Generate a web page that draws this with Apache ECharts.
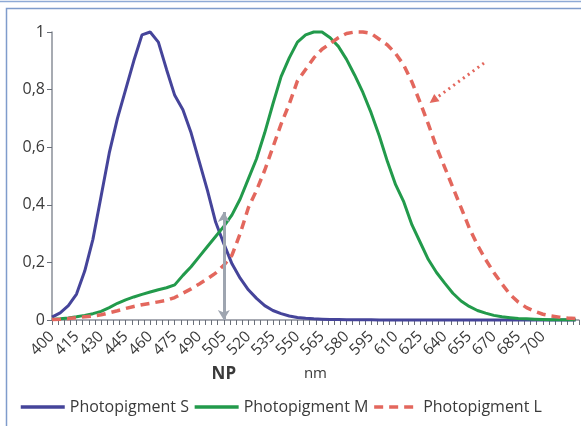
<!DOCTYPE html>
<html>
<head>
<meta charset="utf-8">
<script src="https://cdn.jsdelivr.net/npm/echarts@6/dist/echarts.min.js"></script>
<style>
html,body{margin:0;padding:0;background:#fff;}
#chart{width:581px;height:426px;}
</style>
</head>
<body>
<div id="chart"></div>
<script>
const wavelengths = [400,405,410,415,420,425,430,435,440,445,450,455,460,465,470,475,480,485,490,495,
  500,505,510,515,520,525,530,535,540,545,550,555,560,565,570,575,580,585,590,595,
  600,605,610,615,620,625,630,635,640,645,650,655,660,665,670,675,680,685,690,695,
  700,705,710,715,720];

const seriesS = [0.01,0.025,0.05,0.09,0.17,0.28,0.43,0.58,0.70,0.80,0.90,0.99,1.0,0.965,0.87,0.78,0.73,0.65,0.55,0.45,
  0.34,0.265,0.195,0.145,0.105,0.075,0.05,0.033,0.022,0.014,0.009,0.006,0.004,0.003,0.002,0.002,0.001,0.001,0.001,0.001,
  0,0,0,0,0,0,0,0,0,0,0,0,0,0,0,0,0,0,0,0,
  0,0,0,0,0];

const seriesM = [0.002,0.004,0.007,0.011,0.016,0.022,0.03,0.043,0.058,0.07,0.08,0.089,0.097,0.105,0.112,0.122,0.155,0.185,0.22,0.255,
  0.29,0.325,0.365,0.42,0.49,0.56,0.65,0.75,0.845,0.91,0.965,0.99,1.0,1.0,0.98,0.95,0.905,0.85,0.79,0.72,
  0.64,0.55,0.47,0.41,0.33,0.27,0.21,0.165,0.128,0.093,0.066,0.047,0.033,0.024,0.016,0.011,0.008,0.005,0.004,0.003,
  0.002,0.001,0.001,0.001,0.001];

const seriesL = [0.002,0.003,0.005,0.008,0.011,0.014,0.018,0.025,0.032,0.04,0.047,0.053,0.058,0.063,0.068,0.078,0.093,0.108,0.125,0.143,
  0.163,0.19,0.225,0.30,0.39,0.45,0.52,0.60,0.68,0.75,0.83,0.87,0.91,0.94,0.96,0.98,0.995,1.0,1.0,0.995,
  0.975,0.955,0.925,0.885,0.826,0.755,0.68,0.60,0.53,0.46,0.39,0.32,0.26,0.21,0.165,0.125,0.088,0.062,0.043,0.03,
  0.02,0.014,0.01,0.007,0.005];

const yTicks = [0,0.2,0.4,0.6,0.8,1];
const seriesNames = ['Photopigment S','Photopigment M','Photopigment L'];
const neutralPoint = 505;
const npArrow = [0, 0.375];
const pointerArrow = [[664, 0.892],[633, 0.763]];

function pairs(vals){ return wavelengths.map((w,i)=>[w, vals[i]]); }

const font = 'Open Sans';
const chart = echarts.init(document.getElementById('chart'), null, {renderer:'canvas'});
chart.setOption({
  animation:false,
  backgroundColor:'#ffffff',
  textStyle:{fontFamily:font},
  graphic:[
    {type:'line', shape:{x1:0,y1:1.5,x2:581,y2:1.5}, style:{stroke:'#8eaad6',lineWidth:1.5}},
    {type:'rect', shape:{x:6.5,y:8.5,width:600,height:440}, style:{fill:null,stroke:'#7f9ccc',lineWidth:1.5}}
  ],
  grid:{left:52,right:0,top:32,bottom:106},
  legend:{
    left:14, top:394, itemWidth:44, itemHeight:14, itemGap:4,
    itemStyle:{opacity:0},
    lineStyle:{width:3.5},
    textStyle:{fontSize:16,color:'#3a3a3a',fontFamily:font},
    data:seriesNames
  },
  xAxis:{
    type:'value', min:400, max:722, interval:15,
    name:'nm', nameLocation:'middle', nameGap:46,
    nameTextStyle:{fontSize:15,color:'#3a3a3a'},
    axisLine:{show:true,onZero:false,lineStyle:{color:'#8a8f99',width:1.5}},
    axisTick:{show:true,length:5,inside:false,lineStyle:{color:'#6a6f78'}},
    minorTick:{show:true,splitNumber:4,length:5,lineStyle:{color:'#6a6f78'}},
    splitLine:{show:false},
    axisLabel:{rotate:45,fontSize:15.5,color:'#3a3a3a',margin:14,
      showMaxLabel:true,
      formatter:v=> v<=700 ? String(v) : ''}
  },
  yAxis:{
    type:'value', min:yTicks[0], max:yTicks[yTicks.length-1], interval:0.2,
    axisLine:{show:true,lineStyle:{color:'#8a8f99',width:1.5}},
    axisTick:{show:true,length:5,lineStyle:{color:'#6a6f78'}},
    splitLine:{show:false},
    axisLabel:{fontSize:16,color:'#3a3a3a',margin:7,
      formatter:v=> String(Math.round(v*10)/10).replace('.',',')}
  },
  series:[
    {name:seriesNames[0], type:'line', data:pairs(seriesS), symbol:'none', clip:false,
      lineStyle:{color:'#45449a',width:3}, itemStyle:{color:'#45449a'},
      markLine:{silent:true, symbol:['arrow','arrow'], symbolSize:[9,10],
        lineStyle:{color:'#9ea5b0',width:3,type:'solid'},
        label:{show:true, position:'start', formatter:'NP', fontSize:17, fontWeight:'bold', color:'#3a3a3a', distance:46},
        data:[[{coord:[neutralPoint,npArrow[0]]},{coord:[neutralPoint,npArrow[1]]}]]}
    },
    {name:seriesNames[1], type:'line', data:pairs(seriesM), symbol:'none', clip:false,
      lineStyle:{color:'#229a4b',width:3}, itemStyle:{color:'#229a4b'}},
    {name:seriesNames[2], type:'line', data:pairs(seriesL), symbol:'none', clip:false,
      lineStyle:{color:'#e3675d',width:3.5,type:[9,6]}, itemStyle:{color:'#e3675d'},
      markLine:{silent:true, symbol:['none','triangle'], symbolSize:[9,9],
        lineStyle:{color:'#e3675d',width:3,type:[2,4]},
        label:{show:false},
        data:[[{coord:pointerArrow[0]},{coord:pointerArrow[1]}]]}
    }
  ]
});
</script>
</body>
</html>
